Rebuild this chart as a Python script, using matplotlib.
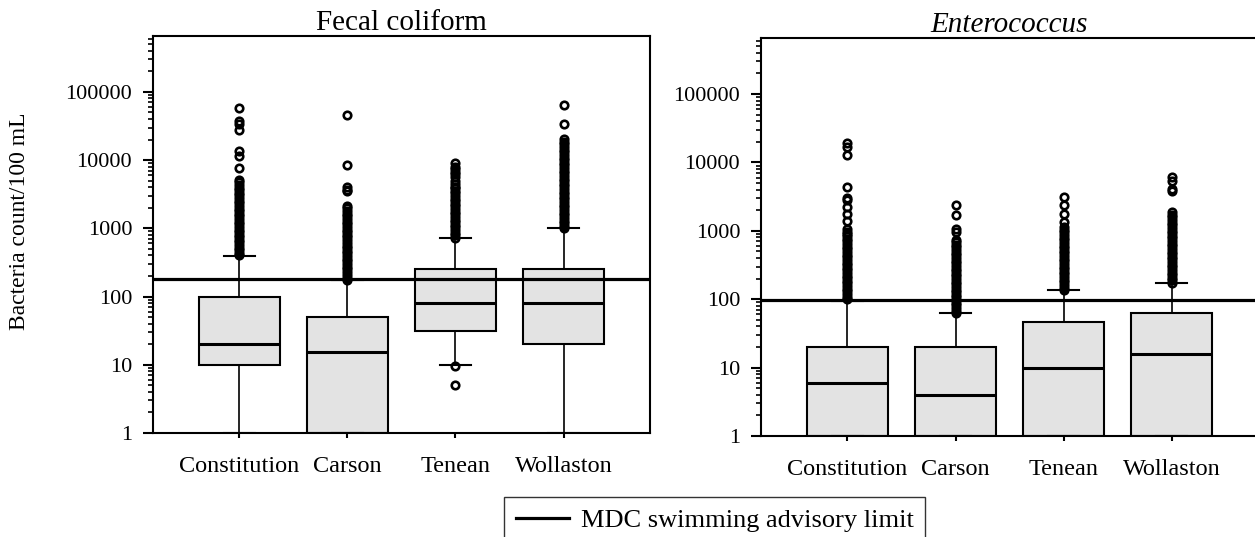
import matplotlib
matplotlib.use('Agg')
import matplotlib.pyplot as plt
from matplotlib.lines import Line2D

plt.rcParams['font.family'] = ['Liberation Serif', 'DejaVu Serif']

sites = ['Constitution', 'Carson', 'Tenean', 'Wollaston']
ytick_vals = [1, 10, 100, 1000, 10000, 100000]
ytick_labels = ['1', '10', '100', '1000', '10000', '100000']

# Fecal coliform box stats (counts/100 mL)
fc_q1 = [10, 1, 31, 20]
fc_med = [20, 15.6, 80, 80]
fc_q3 = [100, 50, 250, 250]
fc_lo = [1, 1, 10, 1]
fc_hi = [390, 172, 714, 1000]
fc_fliers = [
    [400, 440, 480, 520, 570, 620, 680, 740, 810, 880, 960, 1050, 1150, 1250,
     1370, 1500, 1640, 1790, 1950, 2130, 2330, 2540, 2780, 3030, 3310, 3620,
     3950, 4320, 4720, 5150, 7600, 11500, 13400, 28000, 34000, 37000, 59000],
    [175, 190, 210, 230, 250, 275, 300, 330, 360, 395, 430, 470, 515, 560,
     615, 670, 735, 800, 875, 960, 1050, 1150, 1250, 1370, 1500, 1640, 1790,
     1960, 2140, 3500, 3700, 4000, 8500, 45700],
    [5, 9.6, 720, 790, 860, 940, 1030, 1120, 1230, 1340, 1470, 1600, 1750,
     1910, 2090, 2290, 2500, 2730, 2990, 3270, 3570, 3900, 4100, 4500, 5000,
     5600, 6200, 6800, 7400, 8000, 9200],
    [1000, 1090, 1190, 1300, 1420, 1550, 1700, 1850, 2030, 2210, 2420, 2650,
     2890, 3160, 3450, 3770, 4120, 4500, 4920, 5370, 5870, 6410, 7000, 7650,
     8360, 9130, 9980, 10900, 11900, 13000, 14200, 15500, 17000, 18600, 20300,
     34000, 64500],
]
fc_limit = 182

# Enterococcus box stats
ent_q1 = [1, 1, 1, 1]
ent_med = [6, 4, 10, 16]
ent_q3 = [20, 20, 46, 62]
ent_lo = [1, 1, 1, 1]
ent_hi = [95, 62, 135, 172]
ent_fliers = [
    [100, 109, 119, 130, 142, 155, 170, 185, 202, 221, 241, 264, 288, 315,
     344, 376, 411, 449, 490, 536, 585, 640, 699, 763, 834, 911, 970, 1070,
     1400, 1780, 2250, 2800, 3000, 4400, 13000, 17000, 19000],
    [62, 68, 74, 81, 89, 97, 106, 116, 127, 138, 151, 165, 181, 197, 216, 236,
     258, 281, 307, 336, 367, 401, 438, 478, 523, 571, 624, 682, 745, 960,
     1070, 1700, 2400],
    [135, 148, 161, 176, 193, 211, 230, 252, 275, 300, 328, 359, 392, 428,
     468, 511, 559, 610, 667, 729, 796, 870, 950, 1040, 1130, 1350, 1780,
     2400, 3150],
    [172, 188, 205, 224, 245, 268, 293, 320, 349, 382, 417, 456, 498, 544,
     595, 650, 710, 776, 848, 926, 1010, 1110, 1210, 1320, 1440, 1580, 1720,
     1880, 3850, 4100, 5400, 6200],
]
ent_limit = 96


def make_stats(q1, med, q3, lo, hi, fliers):
    return [dict(q1=a, med=b, q3=c, whislo=d, whishi=e, fliers=f)
            for a, b, c, d, e, f in zip(q1, med, q3, lo, hi, fliers)]


def draw_panel(ax, stats, limit, title, italic=False):
    ax.bxp(stats, positions=[1, 2, 3, 4], widths=0.75, capwidths=0.28,
           patch_artist=True,
           boxprops=dict(facecolor='#e3e3e3', edgecolor='black', linewidth=1.5),
           medianprops=dict(color='black', linewidth=2.2),
           whiskerprops=dict(color='black', linewidth=1.2),
           capprops=dict(color='black', linewidth=1.5),
           flierprops=dict(marker='o', markerfacecolor='none',
                           markeredgecolor='black', markersize=5.4,
                           markeredgewidth=1.9))
    ax.axhline(limit, color='black', linewidth=2.3, zorder=4)
    ax.set_yscale('log')
    ax.set_ylim(1, 6.6e5)
    ax.set_xlim(0.2, 4.8)
    ax.set_yticks(ytick_vals)
    ax.set_yticklabels(ytick_labels)
    ax.set_xticks([1, 2, 3, 4])
    ax.set_xticklabels(sites)
    ax.tick_params(axis='y', which='major', direction='out', length=7,
                   width=1.5, labelsize=16, pad=8)
    ax.tick_params(axis='y', which='minor', direction='out', length=3.5,
                   width=1.2)
    ax.tick_params(axis='x', direction='out', length=3.5, width=1.5,
                   labelsize=17.5, pad=13)
    for s in ax.spines.values():
        s.set_linewidth(1.5)
    ax.set_title(title, fontsize=21, pad=1,
                 fontstyle='italic' if italic else 'normal')


fig = plt.figure(figsize=(12.55, 5.37), dpi=100)
ax1 = fig.add_axes([0.1219, 0.1937, 0.3960, 0.7393])
ax2 = fig.add_axes([0.6064, 0.1881, 0.3960, 0.7411])

draw_panel(ax1, make_stats(fc_q1, fc_med, fc_q3, fc_lo, fc_hi, fc_fliers),
           fc_limit, 'Fecal coliform')
draw_panel(ax2, make_stats(ent_q1, ent_med, ent_q3, ent_lo, ent_hi, ent_fliers),
           ent_limit, 'Enterococcus', italic=True)

fig.text(20 / 1255, 1 - 221 / 537, 'Bacteria count/100 mL', rotation=90,
         ha='center', va='center', fontsize=17)

handle = Line2D([], [], color='black', linewidth=2.3)
leg = fig.legend([handle], ['MDC swimming advisory limit'], loc='upper left',
                 bbox_to_anchor=(504 / 1255, 1 - 497 / 537), fontsize=19,
                 frameon=True, fancybox=False, borderpad=0.45,
                 handlelength=2.0, handletextpad=0.45, borderaxespad=0)
leg.get_frame().set_edgecolor('black')
leg.get_frame().set_linewidth(1.0)

fig.savefig('out.png', dpi=100)
